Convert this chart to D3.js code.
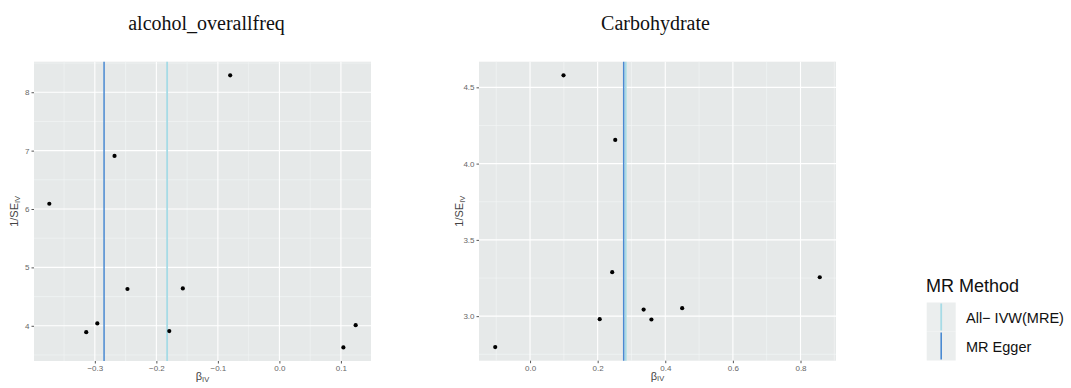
<!DOCTYPE html>
<html>
<head>
<meta charset="utf-8">
<script src="https://cdn.jsdelivr.net/npm/d3@7"></script>
<style>
body { margin:0; background:#fff; }
svg { display:block; }
</style>
</head>
<body>
<svg id="chart" width="1071" height="388"></svg>
<script>
// ---- Data ----
const panelTitles = ["alcohol_overallfreq", "Carbohydrate"];

const alcoholBeta = [-0.374, -0.314, -0.296, -0.268, -0.247, -0.179, -0.157, -0.080, 0.104, 0.124];
const alcoholInvSE = [6.09, 3.89, 4.04, 6.91, 4.63, 3.91, 4.64, 8.29, 3.63, 4.01];
const alcoholLines = { ivw: -0.1825, egger: -0.285 };

const carbBeta = [-0.103, 0.099, 0.206, 0.243, 0.252, 0.336, 0.359, 0.450, 0.857];
const carbInvSE = [2.797, 4.579, 2.980, 3.288, 4.155, 3.043, 2.978, 3.052, 3.255];
const carbLines = { ivw: 0.283, egger: 0.277 };

const alcoholXTicks = [-0.3, -0.2, -0.1, 0.0, 0.1];
const alcoholYTicks = [4, 5, 6, 7, 8];
const carbXTicks = [0.0, 0.2, 0.4, 0.6, 0.8];
const carbYTicks = [3.0, 3.5, 4.0, 4.5];

const methods = ["All\u2212 IVW(MRE)", "MR Egger"];
const methodColors = ["#a6dbe6", "#4a8ad2"];

// ---- Drawing ----
const svg = d3.select("#chart");
const panelBg = "#e6e9e9";
const sans = "Liberation Sans, Arial, sans-serif";

function expand(ext) {
  const r = ext[1] - ext[0];
  return [ext[0] - 0.05 * r, ext[1] + 0.05 * r];
}

function drawPanel(cfg) {
  const { left, right, top, bottom, beta, invSE, lines, xTicks, yTicks, xFmt, yFmt, title, titleShift } = cfg;
  const allX = beta.concat([lines.ivw, lines.egger]);
  const x = d3.scaleLinear().domain(expand(d3.extent(allX))).range([left, right]);
  const y = d3.scaleLinear().domain(expand(d3.extent(invSE))).range([bottom, top]);
  const g = svg.append("g");

  g.append("rect").attr("x", left).attr("y", top)
    .attr("width", right - left).attr("height", bottom - top).attr("fill", panelBg);

  // minor grid
  const xMinor = [];
  for (let i = 0; i < xTicks.length - 1; i++) xMinor.push((xTicks[i] + xTicks[i + 1]) / 2);
  const step = xTicks[1] - xTicks[0];
  xMinor.push(xTicks[0] - step / 2, xTicks[xTicks.length - 1] + step / 2);
  const yMinor = [];
  const ystep = yTicks[1] - yTicks[0];
  for (let i = 0; i < yTicks.length - 1; i++) yMinor.push((yTicks[i] + yTicks[i + 1]) / 2);
  yMinor.push(yTicks[0] - ystep / 2, yTicks[yTicks.length - 1] + ystep / 2);
  const xd = x.domain(), yd = y.domain();

  g.selectAll(".xminor").data(xMinor.filter(v => v > xd[0] && v < xd[1])).enter().append("line")
    .attr("x1", d => x(d)).attr("x2", d => x(d)).attr("y1", top).attr("y2", bottom)
    .attr("stroke", "#f4f6f6").attr("stroke-width", 0.6);
  g.selectAll(".yminor").data(yMinor.filter(v => v > yd[0] && v < yd[1])).enter().append("line")
    .attr("x1", left).attr("x2", right).attr("y1", d => y(d)).attr("y2", d => y(d))
    .attr("stroke", "#f4f6f6").attr("stroke-width", 0.6);
  g.selectAll(".xmajor").data(xTicks).enter().append("line")
    .attr("x1", d => x(d)).attr("x2", d => x(d)).attr("y1", top).attr("y2", bottom)
    .attr("stroke", "#ffffff").attr("stroke-width", 1.1);
  g.selectAll(".ymajor").data(yTicks).enter().append("line")
    .attr("x1", left).attr("x2", right).attr("y1", d => y(d)).attr("y2", d => y(d))
    .attr("stroke", "#ffffff").attr("stroke-width", 1.1);

  // vertical method lines
  g.append("line").attr("x1", x(lines.ivw)).attr("x2", x(lines.ivw)).attr("y1", top).attr("y2", bottom)
    .attr("stroke", methodColors[0]).attr("stroke-width", 1.8);
  g.append("line").attr("x1", x(lines.egger)).attr("x2", x(lines.egger)).attr("y1", top).attr("y2", bottom)
    .attr("stroke", methodColors[1]).attr("stroke-width", 1.5);

  // points
  g.selectAll(".pt").data(beta.map((b, i) => [b, invSE[i]])).enter().append("circle")
    .attr("cx", d => x(d[0])).attr("cy", d => y(d[1])).attr("r", 2.1).attr("fill", "#000");

  // axes
  const xAxis = d3.axisBottom(x).tickValues(xTicks).tickFormat(xFmt).tickSize(2.5).tickPadding(2);
  const gx = g.append("g").attr("transform", `translate(0,${bottom})`).call(xAxis);
  gx.select(".domain").remove();
  gx.selectAll("line").attr("stroke", "#555");
  gx.selectAll("text").attr("fill", "#666").attr("font-size", 8).attr("font-family", sans);

  const yAxis = d3.axisLeft(y).tickValues(yTicks).tickFormat(yFmt).tickSize(2.5).tickPadding(2);
  const gy = g.append("g").attr("transform", `translate(${left},0)`).call(yAxis);
  gy.select(".domain").remove();
  gy.selectAll("line").attr("stroke", "#555");
  gy.selectAll("text").attr("fill", "#666").attr("font-size", 8).attr("font-family", sans);

  // axis titles
  const xt = g.append("text").attr("x", (left + right) / 2).attr("y", bottom + 19)
    .attr("text-anchor", "middle").attr("fill", "#444")
    .attr("font-family", sans).attr("font-size", 11);
  xt.append("tspan").text("\u03b2");
  xt.append("tspan").attr("font-size", 7.5).attr("dy", 1.5).text("IV");

  const yt = g.append("text")
    .attr("transform", `translate(${left - 16},${(top + bottom) / 2}) rotate(-90)`)
    .attr("text-anchor", "middle").attr("fill", "#444")
    .attr("font-family", sans).attr("font-size", 11);
  yt.append("tspan").text("1/SE");
  yt.append("tspan").attr("font-size", 7.5).attr("dy", 1.5).text("IV");

  // panel title
  svg.append("text").attr("x", (left + right) / 2 + titleShift).attr("y", 30)
    .attr("text-anchor", "middle").attr("fill", "#111")
    .attr("font-family", "Liberation Serif, Times New Roman, serif").attr("font-size", 20)
    .text(title);
}

drawPanel({
  left: 34, right: 371, top: 61.7, bottom: 361,
  beta: alcoholBeta, invSE: alcoholInvSE, lines: alcoholLines,
  xTicks: alcoholXTicks, yTicks: alcoholYTicks,
  xFmt: d3.format(".1f"), yFmt: d3.format("d"), title: panelTitles[0], titleShift: 4
});

drawPanel({
  left: 479, right: 836, top: 61.7, bottom: 360.7,
  beta: carbBeta, invSE: carbInvSE, lines: carbLines,
  xTicks: carbXTicks, yTicks: carbYTicks,
  xFmt: d3.format(".1f"), yFmt: d3.format(".1f"), title: panelTitles[1], titleShift: -2
});

// legend
const lg = svg.append("g");
lg.append("text").attr("x", 926).attr("y", 292).attr("fill", "#111")
  .attr("font-family", sans).attr("font-size", 18).text("MR Method");
const keyH = 29, keyW = 29, keyX = 926.7, keyY = 302.5;
methods.forEach((m, i) => {
  const ky = keyY + i * keyH;
  lg.append("rect").attr("x", keyX).attr("y", ky).attr("width", keyW).attr("height", keyH).attr("fill", "#ebeeee");
  lg.append("line").attr("x1", keyX + keyW / 2).attr("x2", keyX + keyW / 2)
    .attr("y1", ky + 1).attr("y2", ky + keyH - 1)
    .attr("stroke", methodColors[i]).attr("stroke-width", i === 0 ? 1.8 : 1.6);
  lg.append("text").attr("x", 966).attr("y", ky + keyH / 2 + 5.5).attr("fill", "#111")
    .attr("font-family", sans).attr("font-size", 14.5).text(m);
});
</script>
</body>
</html>
